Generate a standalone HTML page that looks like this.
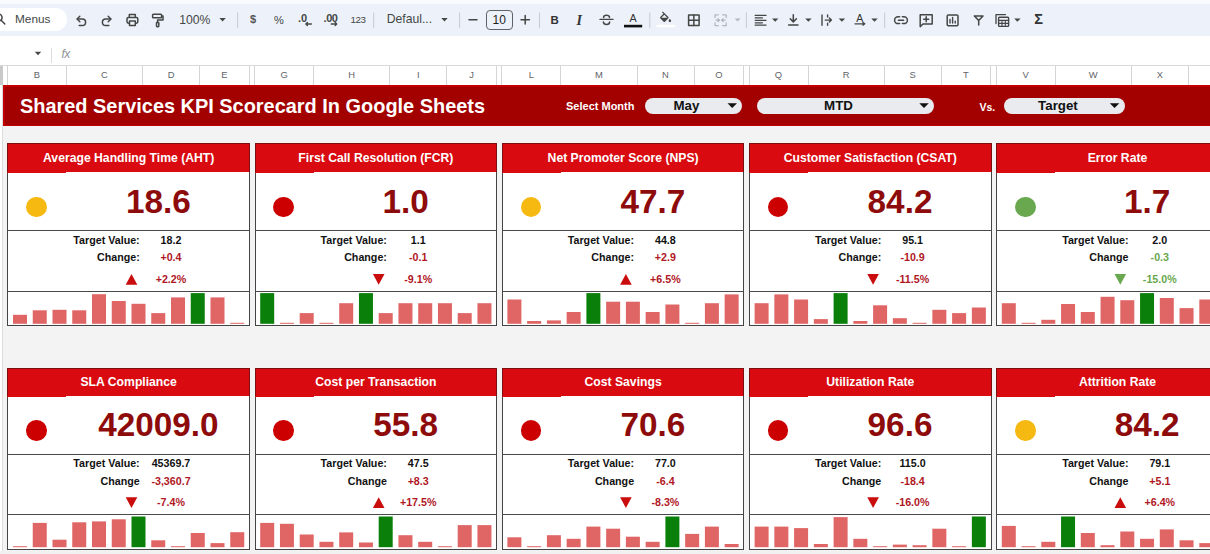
<!DOCTYPE html>
<html><head><meta charset="utf-8"><title>Shared Services KPI Scorecard</title>
<style>
html,body{margin:0;padding:0}
body{width:1210px;height:554px;overflow:hidden;position:relative;background:#f3f3f3;font-family:"Liberation Sans",sans-serif}
div{position:absolute;box-sizing:border-box}
svg.ov{position:absolute;left:0;top:0;pointer-events:none}
.card{background:#fff;border:1.2px solid #444}
.chead{background:#d90a10;color:#fff;font-weight:bold;font-size:12.2px;text-align:center;white-space:nowrap;border:1.3px solid #7a1010;border-bottom:none}
.cstep{width:59px;height:1.5px;background:#d90a10}
.cdiv{height:1.2px;background:#4a4a4a}
.circ{width:20.6px;height:20.6px;border-radius:50%}
.big{width:200px;height:40px;line-height:40px;text-align:center;font-weight:bold;font-size:33.3px;color:#8e0b0b;white-space:nowrap}
.lab{width:120px;height:16px;line-height:16px;text-align:right;font-weight:bold;font-size:10.7px;color:#111;white-space:nowrap}
.val{width:80px;height:16px;line-height:16px;text-align:center;font-weight:bold;font-size:10.7px;color:#111;white-space:nowrap}
.colh{top:65.5px;height:19.5px;line-height:19.5px;text-align:center;font-size:9.4px;color:#5f6368;margin-top:-0.4px}
.coll{top:65.5px;height:19.5px;width:1px;background:#d5d5d5}
.pill{background:#e9ebee;border-radius:9px;height:16px;top:97.7px;font-weight:bold;font-size:13.3px;color:#111;text-align:center;line-height:16.5px}
.btxt{color:#fff;font-weight:bold;white-space:nowrap}
.tt{height:17px;line-height:17px;color:#444746;white-space:nowrap;z-index:3}
</style></head><body>
<!-- toolbar -->
<div style="left:0;top:0;width:1210px;height:65px;background:#fff"></div>
<div style="left:0;top:0;width:1210px;height:4px;background:#f8fafd"></div>
<div style="left:0;top:3.5px;width:1210px;height:32.5px;background:#edf1f9"></div>
<div style="left:-20px;top:8px;width:87px;height:23px;background:#fff;border-radius:11.5px"></div>
<div class="tt" style="left:15px;top:11px;font-size:11.8px">Menus</div>
<div class="tt" style="left:179.2px;top:11.5px;font-size:12.2px">100%</div>
<div class="tt" style="left:350.4px;top:11.3px;font-size:9.8px;letter-spacing:-0.45px">123</div>
<div class="tt" style="left:386.7px;top:11px;font-size:12.2px">Defaul...</div>
<div style="left:485.8px;top:10px;width:26.8px;height:19.5px;border:1px solid #5f6368;border-radius:4px"></div>
<div class="tt" style="left:485.8px;top:11.5px;width:26.8px;text-align:center;font-size:12px;color:#1f1f1f">10</div>
<div class="tt" style="left:249.9px;top:11.3px;font-size:11px;font-weight:bold;color:#555">$</div>
<div class="tt" style="left:274px;top:11.5px;font-size:11px">%</div>
<div class="tt" style="left:298px;top:9.5px;font-size:11px;font-weight:bold">.0</div>
<div class="tt" style="left:323.5px;top:9.5px;font-size:11px;font-weight:bold;letter-spacing:-0.4px">.00</div>
<div class="tt" style="left:550.6px;top:12px;font-size:11.5px;font-weight:bold;color:#333">B</div>
<div class="tt" style="left:576.6px;top:11.6px;font-size:14px;font-style:italic;font-weight:bold;color:#333;font-family:'Liberation Serif',serif">I</div>
<div class="tt" style="left:629.4px;top:10.2px;font-size:10.8px;color:#333">A</div>
<div class="tt" style="left:856.2px;top:10.2px;font-size:10.5px;color:#333">A</div>
<div class="tt" style="left:1034.2px;top:11px;font-size:14.5px;font-weight:bold;color:#333">&Sigma;</div>
<div class="tt" style="left:61.5px;top:45.6px;font-size:12px;font-style:italic;color:#8f9297;letter-spacing:-0.6px">fx</div>
<svg class="ov" width="1210" height="70" style="z-index:2">
<g fill="none" stroke="#444746" stroke-width="1.5" stroke-linecap="round" stroke-linejoin="round">
<!-- search (cut) -->
<circle cx="-1.5" cy="17.5" r="3.6"/><path d="M1.2 20.3 L4.8 24"/>
<!-- undo -->
<path d="M77.3 19 H82.3 A3.3 3.3 0 0 1 82.3 25.6 H79.2"/><path d="M79.8 16.3 L77.1 19 L79.8 21.7"/>
<!-- redo -->
<path d="M110.7 19 H105.7 A3.3 3.3 0 0 0 105.7 25.6 H108.8"/><path d="M108.2 16.3 L110.9 19 L108.2 21.7"/>
<!-- print -->
<path d="M129.3 17.2 V14.6 H135.3 V17.2"/><rect x="127" y="17.4" width="10.8" height="5.8" rx="1.4"/><rect x="129.5" y="21" width="5.8" height="4.4" fill="#edf1f9"/>
<!-- paint format -->
<rect x="152.6" y="14.3" width="9" height="3.4" rx="0.8"/><path d="M161.6 16 H163 V20 H157.6 V22.3"/><rect x="156.5" y="22.5" width="2.3" height="4.2" rx="0.6"/>
<!-- minus / plus -->
<path d="M469 19.8 H477"/><path d="M521 19.8 H529.4 M525.2 15.6 V24"/>
<!-- strike -->
<path d="M600 19.4 H613" stroke-width="1.3"/><path d="M609.5 17.4 C609.3 15.9 608 15.3 606.5 15.3 C604.8 15.3 603.6 16.1 603.6 17.5 M603.4 22.1 C603.6 23.7 604.9 24.5 606.5 24.5 C608.2 24.5 609.6 23.7 609.6 22"/>
<!-- borders -->
<rect x="688.6" y="15" width="10.5" height="10.4"/><path d="M693.85 15 V25.4 M688.6 20.2 H699.1"/>
<!-- align -->
<path d="M755.2 15.4 H766 M755.2 17.9 H762.4 M755.2 20.3 H766 M755.2 22.8 H762.4 M755.2 25.2 H766" stroke-width="1.25"/>
<!-- valign bottom -->
<path d="M793.3 14.8 V21.6 M790.2 18.8 L793.3 21.9 L796.4 18.8 M788.6 25 H798"/>
<!-- wrap overflow -->
<path d="M822 15 V25.2 M827.6 15 V17 M827.6 23.2 V25.2 M825.2 20.1 H831.4 M829.4 18.1 L831.4 20.1 L829.4 22.1" stroke-width="1.4"/>
<!-- rotation -->
<path d="M855 23.8 H864.4 M863 22.5 L864.8 23.8 L863 25.1" stroke-width="1.3"/>
<!-- link -->
<path d="M899.6 16.8 H898 A3.4 3.4 0 0 0 898 23.6 H899.6 M902.4 16.8 H904 A3.4 3.4 0 0 1 904 23.6 H902.4 M898.4 20.2 H903.6"/>
<!-- comment -->
<path d="M920.2 14.7 H932.2 V24 H923 L920.2 26.6 Z M926.2 16.8 V21.8 M923.7 19.3 H928.7"/>
<!-- chart -->
<rect x="947.2" y="14.9" width="10.8" height="10.8" rx="1.2"/><path d="M950 23 V19.5 M952.6 23 V17.5 M955.2 23 V21.3" stroke-width="1.4"/>
<!-- filter -->
<path d="M974.4 15.9 H983 L978.7 20.6 Z M978.7 20.6 V25" stroke-width="1.5"/>
<!-- filter views -->
<path d="M996 23.5 V14.6 H1005.5" stroke-width="1.3"/><rect x="998.6" y="17.2" width="10" height="9.2" rx="0.8" stroke-width="1.4"/><path d="M998.6 20.4 H1008.6 M998.6 23.4 H1008.6 M1002 20.4 V26.4 M1005.3 20.4 V26.4" stroke-width="1.1"/>
</g>
<!-- decimal arrows -->
<g fill="none" stroke="#444746" stroke-width="1.3" stroke-linecap="round" stroke-linejoin="round">
<path d="M305.8 24 H311.4 M307.4 22.5 L305.8 24 L307.4 25.5"/>
<path d="M331.2 24 H336.8 M335.2 22.5 L336.8 24 L335.2 25.5"/>
</g>
<!-- merge (disabled) -->
<g fill="none" stroke="#b5b9bf" stroke-width="1.3" stroke-linecap="round" stroke-linejoin="round">
<path d="M715 17.6 V14.8 H718.4 M722.6 14.8 H726.2 V17.6 M715 22.8 V25.6 H718.4 M722.6 25.6 H726.2 V22.8 M716 20.2 H719.4 M718 18.8 L719.6 20.2 L718 21.6 M725.2 20.2 H721.8 M723.2 18.8 L721.6 20.2 L723.2 21.6"/>
</g>
<!-- text color bar / fill color -->
<rect x="624" y="24.8" width="18.2" height="2.6" fill="#111"/>
<rect x="656.6" y="24.8" width="18.6" height="2.4" fill="#fff"/>
<g transform="translate(658.1,11.5) scale(0.62)" fill="#444746">
<path d="M16.56 8.94L7.62 0 6.21 1.41l2.38 2.38-5.15 5.15c-.59.59-.59 1.54 0 2.12l5.5 5.5c.29.29.68.44 1.06.44s.77-.15 1.06-.44l5.5-5.5c.59-.58.59-1.53 0-2.12zM5.21 10L10 5.21 14.79 10H5.21zM19 11.5s-2 2.17-2 3.5c0 1.1.9 2 2 2s2-.9 2-2c0-1.33-2-3.5-2-3.5z"/>
</g>
<!-- dropdown carets -->
<g fill="#444746">
<polygon points="219.4,18 225.8,18 222.6,21.4"/>
<polygon points="441.3,18 447.7,18 444.5,21.4"/>
<polygon points="772,18.4 778.4,18.4 775.2,21.8"/>
<polygon points="805.2,18.4 811.6,18.4 808.4,21.8"/>
<polygon points="838.7,18.4 845.1,18.4 841.9,21.8"/>
<polygon points="871.3,18.4 877.7,18.4 874.5,21.8"/>
<polygon points="1014.2,18.4 1020.6,18.4 1017.4,21.8"/>
<polygon points="34.8,51.8 41.2,51.8 38,55.2"/>
</g>
<polygon points="734.6,18.4 740.6,18.4 737.6,21.6" fill="#b5b9bf"/>
<!-- separators -->
<g stroke="#c7cad0" stroke-width="1">
<path d="M237.6 12.5 V28 M373.7 12.5 V28 M459.6 12.5 V28 M539.5 12.5 V28 M649.8 12.5 V28 M746.4 12.5 V28 M884.7 12.5 V28"/>
</g>
<path d="M51.5 48 V63" stroke="#dadce0" stroke-width="1"/>
</svg>

<!-- column headers -->
<div style="left:0;top:65px;width:1210px;height:20px;background:#fff;border-top:1px solid #d9d9d9"></div>
<div style="left:0;top:66px;width:2.5px;height:19px;background:#c9c9c9"></div>
<div class="coll" style="left:6.9px"></div>
<div class="colh" style="left:7.4px;width:59.0px">B</div>
<div class="coll" style="left:65.9px"></div>
<div class="colh" style="left:66.4px;width:76.2px">C</div>
<div class="coll" style="left:142.1px"></div>
<div class="colh" style="left:142.6px;width:57.0px">D</div>
<div class="coll" style="left:199.1px"></div>
<div class="colh" style="left:199.6px;width:49.6px">E</div>
<div class="coll" style="left:248.7px"></div>
<div class="coll" style="left:254.1px"></div>
<div class="colh" style="left:254.6px;width:59.0px">G</div>
<div class="coll" style="left:313.1px"></div>
<div class="colh" style="left:313.6px;width:76.2px">H</div>
<div class="coll" style="left:389.3px"></div>
<div class="colh" style="left:389.8px;width:57.0px">I</div>
<div class="coll" style="left:446.3px"></div>
<div class="colh" style="left:446.8px;width:49.6px">J</div>
<div class="coll" style="left:495.9px"></div>
<div class="coll" style="left:501.3px"></div>
<div class="colh" style="left:501.8px;width:59.0px">L</div>
<div class="coll" style="left:560.3px"></div>
<div class="colh" style="left:560.8px;width:76.2px">M</div>
<div class="coll" style="left:636.5px"></div>
<div class="colh" style="left:637.0px;width:57.0px">N</div>
<div class="coll" style="left:693.5px"></div>
<div class="colh" style="left:694.0px;width:49.6px">O</div>
<div class="coll" style="left:743.1px"></div>
<div class="coll" style="left:748.5px"></div>
<div class="colh" style="left:749.0px;width:59.0px">Q</div>
<div class="coll" style="left:807.5px"></div>
<div class="colh" style="left:808.0px;width:76.2px">R</div>
<div class="coll" style="left:883.7px"></div>
<div class="colh" style="left:884.2px;width:57.0px">S</div>
<div class="coll" style="left:940.7px"></div>
<div class="colh" style="left:941.2px;width:49.6px">T</div>
<div class="coll" style="left:990.3px"></div>
<div class="coll" style="left:995.7px"></div>
<div class="colh" style="left:996.2px;width:59.0px">V</div>
<div class="coll" style="left:1054.7px"></div>
<div class="colh" style="left:1055.2px;width:76.2px">W</div>
<div class="coll" style="left:1130.9px"></div>
<div class="colh" style="left:1131.4px;width:57.0px">X</div>
<div class="coll" style="left:1187.9px"></div>
<div class="colh" style="left:1188.4px;width:49.6px">Y</div>
<div class="coll" style="left:1237.5px"></div>
<div class="coll" style="left:1242.9px"></div>
<!-- left row header sliver -->
<div style="left:0;top:85px;width:3px;height:469px;background:#fff;border-right:1px solid #dcdcdc"></div>
<!-- banner -->
<div style="left:3px;top:85px;width:1207px;height:41px;background:#c00000"></div>
<div style="left:5px;top:87px;width:1205px;height:37.5px;background:#a30000"></div>
<div class="btxt" style="left:20px;top:92.7px;height:26px;line-height:26px;font-size:19.93px" id="title">Shared Services KPI Scorecard In Google Sheets</div>
<div class="btxt" style="left:566px;top:98px;height:16px;line-height:16px;font-size:11px" id="selm">Select Month</div>
<div class="pill" style="left:644.5px;width:97.8px;padding-right:14px">May</div>
<div class="pill" style="left:757px;width:177px;padding-right:14px">MTD</div>
<div class="btxt" style="left:979.5px;top:99px;height:16px;line-height:16px;font-size:10.5px" id="vs">Vs.</div>
<div class="pill" style="left:1004.3px;width:120.3px;padding-right:13px">Target</div>
<svg class="ov" width="1210" height="554">
<polygon points="727.5,103.2 737,103.2 732.2,108" fill="#111"/>
<polygon points="919.3,103.2 928.8,103.2 924,108" fill="#111"/>
<polygon points="1109.8,103.2 1119.3,103.2 1114.6,108" fill="#111"/>
</svg>
<!-- cards -->
<div class="card" style="left:7.4px;top:143.2px;width:242.6px;height:182.9px"></div>
<div class="chead" style="left:7.4px;top:143.2px;width:242.6px;height:29.0px;line-height:29.5px">Average Handling Time (AHT)</div>
<div class="cstep" style="left:7.4px;top:171.7px"></div>
<div class="cdiv" style="left:7.4px;top:230.2px;width:242.6px"></div>
<div class="cdiv" style="left:7.4px;top:290.6px;width:242.6px"></div>
<div class="circ" style="left:26.2px;top:196.7px;background:#f5b912"></div>
<div class="big" style="left:58.4px;top:181.9px">18.6</div>
<div class="lab" style="left:19.7px;top:232.0px">Target Value:</div>
<div class="val" style="left:131.0px;top:232.0px">18.2</div>
<div class="lab" style="left:19.7px;top:249.2px">Change:</div>
<div class="val" style="left:131.0px;top:249.2px;color:#b0171f">+0.4</div>
<svg class="ov" width="1210" height="554"><polygon points="125.7,284.7 137.3,284.7 131.5,273.9" fill="#c90c0c"/></svg>
<div class="val" style="left:131.0px;top:271.0px;color:#b0171f">+2.2%</div>
<svg class="ov" width="1210" height="554"><rect x="13.00" y="314.80" width="14" height="9.00" fill="#e06666"/><rect x="32.75" y="310.30" width="14" height="13.50" fill="#e06666"/><rect x="52.50" y="309.80" width="14" height="14.00" fill="#e06666"/><rect x="72.25" y="310.30" width="14" height="13.50" fill="#e06666"/><rect x="92.00" y="294.20" width="14" height="29.60" fill="#e06666"/><rect x="111.75" y="301.00" width="14" height="22.80" fill="#e06666"/><rect x="131.50" y="303.80" width="14" height="20.00" fill="#e06666"/><rect x="151.25" y="313.10" width="14" height="10.70" fill="#e06666"/><rect x="171.00" y="297.40" width="14" height="26.40" fill="#e06666"/><rect x="190.75" y="293.10" width="14" height="30.70" fill="#0a800a"/><rect x="210.50" y="297.40" width="14" height="26.40" fill="#e06666"/><rect x="230.25" y="322.80" width="14" height="1.00" fill="#e06666"/></svg>
<div class="card" style="left:254.6px;top:143.2px;width:242.6px;height:182.9px"></div>
<div class="chead" style="left:254.6px;top:143.2px;width:242.6px;height:29.0px;line-height:29.5px">First Call Resolution (FCR)</div>
<div class="cstep" style="left:254.6px;top:171.7px"></div>
<div class="cdiv" style="left:254.6px;top:230.2px;width:242.6px"></div>
<div class="cdiv" style="left:254.6px;top:290.6px;width:242.6px"></div>
<div class="circ" style="left:273.4px;top:196.7px;background:#cc0000"></div>
<div class="big" style="left:305.6px;top:181.9px">1.0</div>
<div class="lab" style="left:266.9px;top:232.0px">Target Value:</div>
<div class="val" style="left:378.2px;top:232.0px">1.1</div>
<div class="lab" style="left:266.9px;top:249.2px">Change:</div>
<div class="val" style="left:378.2px;top:249.2px;color:#b0171f">-0.1</div>
<svg class="ov" width="1210" height="554"><polygon points="372.9,273.9 384.5,273.9 378.7,284.7" fill="#c90c0c"/></svg>
<div class="val" style="left:378.2px;top:271.0px;color:#b0171f">-9.1%</div>
<svg class="ov" width="1210" height="554"><rect x="260.20" y="293.10" width="14" height="30.70" fill="#0a800a"/><rect x="279.95" y="322.80" width="14" height="1.00" fill="#e06666"/><rect x="299.70" y="313.10" width="14" height="10.70" fill="#e06666"/><rect x="319.45" y="322.80" width="14" height="1.00" fill="#e06666"/><rect x="339.20" y="303.20" width="14" height="20.60" fill="#e06666"/><rect x="358.95" y="293.10" width="14" height="30.70" fill="#0a800a"/><rect x="378.70" y="313.10" width="14" height="10.70" fill="#e06666"/><rect x="398.45" y="303.20" width="14" height="20.60" fill="#e06666"/><rect x="418.20" y="303.20" width="14" height="20.60" fill="#e06666"/><rect x="437.95" y="303.20" width="14" height="20.60" fill="#e06666"/><rect x="457.70" y="313.10" width="14" height="10.70" fill="#e06666"/><rect x="477.45" y="303.20" width="14" height="20.60" fill="#e06666"/></svg>
<div class="card" style="left:501.8px;top:143.2px;width:242.6px;height:182.9px"></div>
<div class="chead" style="left:501.8px;top:143.2px;width:242.6px;height:29.0px;line-height:29.5px">Net Promoter Score (NPS)</div>
<div class="cstep" style="left:501.8px;top:171.7px"></div>
<div class="cdiv" style="left:501.8px;top:230.2px;width:242.6px"></div>
<div class="cdiv" style="left:501.8px;top:290.6px;width:242.6px"></div>
<div class="circ" style="left:520.6px;top:196.7px;background:#f5b912"></div>
<div class="big" style="left:552.8px;top:181.9px">47.7</div>
<div class="lab" style="left:514.1px;top:232.0px">Target Value:</div>
<div class="val" style="left:625.4px;top:232.0px">44.8</div>
<div class="lab" style="left:514.1px;top:249.2px">Change:</div>
<div class="val" style="left:625.4px;top:249.2px;color:#b0171f">+2.9</div>
<svg class="ov" width="1210" height="554"><polygon points="620.1,284.7 631.7,284.7 625.9,273.9" fill="#c90c0c"/></svg>
<div class="val" style="left:625.4px;top:271.0px;color:#b0171f">+6.5%</div>
<svg class="ov" width="1210" height="554"><rect x="507.40" y="299.50" width="14" height="24.30" fill="#e06666"/><rect x="527.15" y="321.00" width="14" height="2.80" fill="#e06666"/><rect x="546.90" y="320.40" width="14" height="3.40" fill="#e06666"/><rect x="566.65" y="312.00" width="14" height="11.80" fill="#e06666"/><rect x="586.40" y="293.10" width="14" height="30.70" fill="#0a800a"/><rect x="606.15" y="301.70" width="14" height="22.10" fill="#e06666"/><rect x="625.90" y="301.70" width="14" height="22.10" fill="#e06666"/><rect x="645.65" y="312.00" width="14" height="11.80" fill="#e06666"/><rect x="665.40" y="304.50" width="14" height="19.30" fill="#e06666"/><rect x="685.15" y="322.80" width="14" height="1.00" fill="#e06666"/><rect x="704.90" y="303.20" width="14" height="20.60" fill="#e06666"/><rect x="724.65" y="294.40" width="14" height="29.40" fill="#e06666"/></svg>
<div class="card" style="left:749.0px;top:143.2px;width:242.6px;height:182.9px"></div>
<div class="chead" style="left:749.0px;top:143.2px;width:242.6px;height:29.0px;line-height:29.5px">Customer Satisfaction (CSAT)</div>
<div class="cstep" style="left:749.0px;top:171.7px"></div>
<div class="cdiv" style="left:749.0px;top:230.2px;width:242.6px"></div>
<div class="cdiv" style="left:749.0px;top:290.6px;width:242.6px"></div>
<div class="circ" style="left:767.8px;top:196.7px;background:#cc0000"></div>
<div class="big" style="left:800.0px;top:181.9px">84.2</div>
<div class="lab" style="left:761.3px;top:232.0px">Target Value:</div>
<div class="val" style="left:872.6px;top:232.0px">95.1</div>
<div class="lab" style="left:761.3px;top:249.2px">Change:</div>
<div class="val" style="left:872.6px;top:249.2px;color:#b0171f">-10.9</div>
<svg class="ov" width="1210" height="554"><polygon points="867.3,273.9 878.9,273.9 873.1,284.7" fill="#c90c0c"/></svg>
<div class="val" style="left:872.6px;top:271.0px;color:#b0171f">-11.5%</div>
<svg class="ov" width="1210" height="554"><rect x="754.60" y="303.20" width="14" height="20.60" fill="#e06666"/><rect x="774.35" y="294.40" width="14" height="29.40" fill="#e06666"/><rect x="794.10" y="299.50" width="14" height="24.30" fill="#e06666"/><rect x="813.85" y="319.10" width="14" height="4.70" fill="#e06666"/><rect x="833.60" y="293.10" width="14" height="30.70" fill="#0a800a"/><rect x="853.35" y="321.00" width="14" height="2.80" fill="#e06666"/><rect x="873.10" y="305.30" width="14" height="18.50" fill="#e06666"/><rect x="892.85" y="318.20" width="14" height="5.60" fill="#e06666"/><rect x="912.60" y="322.80" width="14" height="1.00" fill="#e06666"/><rect x="932.35" y="309.80" width="14" height="14.00" fill="#e06666"/><rect x="952.10" y="313.10" width="14" height="10.70" fill="#e06666"/><rect x="971.85" y="307.50" width="14" height="16.30" fill="#e06666"/></svg>
<div class="card" style="left:996.2px;top:143.2px;width:242.6px;height:182.9px"></div>
<div class="chead" style="left:996.2px;top:143.2px;width:242.6px;height:29.0px;line-height:29.5px">Error Rate</div>
<div class="cstep" style="left:996.2px;top:171.7px"></div>
<div class="cdiv" style="left:996.2px;top:230.2px;width:242.6px"></div>
<div class="cdiv" style="left:996.2px;top:290.6px;width:242.6px"></div>
<div class="circ" style="left:1015.0px;top:196.7px;background:#6aa84f"></div>
<div class="big" style="left:1047.2px;top:181.9px">1.7</div>
<div class="lab" style="left:1008.5px;top:232.0px">Target Value:</div>
<div class="val" style="left:1119.8px;top:232.0px">2.0</div>
<div class="lab" style="left:1008.5px;top:249.2px">Change</div>
<div class="val" style="left:1119.8px;top:249.2px;color:#6aa84f">-0.3</div>
<svg class="ov" width="1210" height="554"><polygon points="1114.5,273.9 1126.1,273.9 1120.3,284.7" fill="#6aa84f"/></svg>
<div class="val" style="left:1119.8px;top:271.0px;color:#6aa84f">-15.0%</div>
<svg class="ov" width="1210" height="554"><rect x="1001.80" y="303.20" width="14" height="20.60" fill="#e06666"/><rect x="1021.55" y="322.80" width="14" height="1.00" fill="#e06666"/><rect x="1041.30" y="319.80" width="14" height="4.00" fill="#e06666"/><rect x="1061.05" y="304.00" width="14" height="19.80" fill="#e06666"/><rect x="1080.80" y="312.00" width="14" height="11.80" fill="#e06666"/><rect x="1100.55" y="296.80" width="14" height="27.00" fill="#e06666"/><rect x="1120.30" y="300.20" width="14" height="23.60" fill="#e06666"/><rect x="1140.05" y="293.10" width="14" height="30.70" fill="#0a800a"/><rect x="1159.80" y="298.00" width="14" height="25.80" fill="#e06666"/><rect x="1179.55" y="308.10" width="14" height="15.70" fill="#e06666"/><rect x="1199.30" y="299.50" width="14" height="24.30" fill="#e06666"/><rect x="1219.05" y="311.80" width="14" height="12.00" fill="#e06666"/></svg>
<div class="card" style="left:7.4px;top:368.0px;width:242.6px;height:182.0px"></div>
<div class="chead" style="left:7.4px;top:368.0px;width:242.6px;height:28.0px;line-height:27.3px">SLA Compliance</div>
<div class="cstep" style="left:7.4px;top:395.5px"></div>
<div class="cdiv" style="left:7.4px;top:453.6px;width:242.6px"></div>
<div class="cdiv" style="left:7.4px;top:513.7px;width:242.6px"></div>
<div class="circ" style="left:26.2px;top:420.1px;background:#cc0000"></div>
<div class="big" style="left:58.4px;top:405.3px">42009.0</div>
<div class="lab" style="left:19.7px;top:455.4px">Target Value:</div>
<div class="val" style="left:131.0px;top:455.4px">45369.7</div>
<div class="lab" style="left:19.7px;top:472.6px">Change</div>
<div class="val" style="left:131.0px;top:472.6px;color:#b0171f">-3,360.7</div>
<svg class="ov" width="1210" height="554"><polygon points="125.7,497.3 137.3,497.3 131.5,508.1" fill="#c90c0c"/></svg>
<div class="val" style="left:131.0px;top:494.4px;color:#b0171f">-7.4%</div>
<svg class="ov" width="1210" height="554"><rect x="13.00" y="546.20" width="14" height="1.00" fill="#e06666"/><rect x="32.75" y="522.90" width="14" height="24.30" fill="#e06666"/><rect x="52.50" y="539.70" width="14" height="7.50" fill="#e06666"/><rect x="72.25" y="522.30" width="14" height="24.90" fill="#e06666"/><rect x="92.00" y="521.40" width="14" height="25.80" fill="#e06666"/><rect x="111.75" y="519.30" width="14" height="27.90" fill="#e06666"/><rect x="131.50" y="516.50" width="14" height="30.70" fill="#0a800a"/><rect x="151.25" y="540.30" width="14" height="6.90" fill="#e06666"/><rect x="171.00" y="546.20" width="14" height="1.00" fill="#e06666"/><rect x="190.75" y="533.00" width="14" height="14.20" fill="#e06666"/><rect x="210.50" y="543.10" width="14" height="4.10" fill="#e06666"/><rect x="230.25" y="532.20" width="14" height="15.00" fill="#e06666"/></svg>
<div class="card" style="left:254.6px;top:368.0px;width:242.6px;height:182.0px"></div>
<div class="chead" style="left:254.6px;top:368.0px;width:242.6px;height:28.0px;line-height:27.3px">Cost per Transaction</div>
<div class="cstep" style="left:254.6px;top:395.5px"></div>
<div class="cdiv" style="left:254.6px;top:453.6px;width:242.6px"></div>
<div class="cdiv" style="left:254.6px;top:513.7px;width:242.6px"></div>
<div class="circ" style="left:273.4px;top:420.1px;background:#cc0000"></div>
<div class="big" style="left:305.6px;top:405.3px">55.8</div>
<div class="lab" style="left:266.9px;top:455.4px">Target Value:</div>
<div class="val" style="left:378.2px;top:455.4px">47.5</div>
<div class="lab" style="left:266.9px;top:472.6px">Change</div>
<div class="val" style="left:378.2px;top:472.6px;color:#b0171f">+8.3</div>
<svg class="ov" width="1210" height="554"><polygon points="372.9,508.1 384.5,508.1 378.7,497.3" fill="#c90c0c"/></svg>
<div class="val" style="left:378.2px;top:494.4px;color:#b0171f">+17.5%</div>
<svg class="ov" width="1210" height="554"><rect x="260.20" y="522.90" width="14" height="24.30" fill="#e06666"/><rect x="279.95" y="523.80" width="14" height="23.40" fill="#e06666"/><rect x="299.70" y="534.50" width="14" height="12.70" fill="#e06666"/><rect x="319.45" y="541.80" width="14" height="5.40" fill="#e06666"/><rect x="339.20" y="532.40" width="14" height="14.80" fill="#e06666"/><rect x="358.95" y="542.50" width="14" height="4.70" fill="#e06666"/><rect x="378.70" y="516.50" width="14" height="30.70" fill="#0a800a"/><rect x="398.45" y="535.20" width="14" height="12.00" fill="#e06666"/><rect x="418.20" y="541.80" width="14" height="5.40" fill="#e06666"/><rect x="437.95" y="546.20" width="14" height="1.00" fill="#e06666"/><rect x="457.70" y="525.10" width="14" height="22.10" fill="#e06666"/><rect x="477.45" y="525.10" width="14" height="22.10" fill="#e06666"/></svg>
<div class="card" style="left:501.8px;top:368.0px;width:242.6px;height:182.0px"></div>
<div class="chead" style="left:501.8px;top:368.0px;width:242.6px;height:28.0px;line-height:27.3px">Cost Savings</div>
<div class="cstep" style="left:501.8px;top:395.5px"></div>
<div class="cdiv" style="left:501.8px;top:453.6px;width:242.6px"></div>
<div class="cdiv" style="left:501.8px;top:513.7px;width:242.6px"></div>
<div class="circ" style="left:520.6px;top:420.1px;background:#cc0000"></div>
<div class="big" style="left:552.8px;top:405.3px">70.6</div>
<div class="lab" style="left:514.1px;top:455.4px">Target Value:</div>
<div class="val" style="left:625.4px;top:455.4px">77.0</div>
<div class="lab" style="left:514.1px;top:472.6px">Change</div>
<div class="val" style="left:625.4px;top:472.6px;color:#b0171f">-6.4</div>
<svg class="ov" width="1210" height="554"><polygon points="620.1,497.3 631.7,497.3 625.9,508.1" fill="#c90c0c"/></svg>
<div class="val" style="left:625.4px;top:494.4px;color:#b0171f">-8.3%</div>
<svg class="ov" width="1210" height="554"><rect x="507.40" y="537.30" width="14" height="9.90" fill="#e06666"/><rect x="527.15" y="546.20" width="14" height="1.00" fill="#e06666"/><rect x="546.90" y="535.20" width="14" height="12.00" fill="#e06666"/><rect x="566.65" y="538.80" width="14" height="8.40" fill="#e06666"/><rect x="586.40" y="526.60" width="14" height="20.60" fill="#e06666"/><rect x="606.15" y="528.70" width="14" height="18.50" fill="#e06666"/><rect x="625.90" y="536.70" width="14" height="10.50" fill="#e06666"/><rect x="645.65" y="541.80" width="14" height="5.40" fill="#e06666"/><rect x="665.40" y="516.50" width="14" height="30.70" fill="#0a800a"/><rect x="685.15" y="533.90" width="14" height="13.30" fill="#e06666"/><rect x="704.90" y="526.60" width="14" height="20.60" fill="#e06666"/><rect x="724.65" y="544.00" width="14" height="3.20" fill="#e06666"/></svg>
<div class="card" style="left:749.0px;top:368.0px;width:242.6px;height:182.0px"></div>
<div class="chead" style="left:749.0px;top:368.0px;width:242.6px;height:28.0px;line-height:27.3px">Utilization Rate</div>
<div class="cstep" style="left:749.0px;top:395.5px"></div>
<div class="cdiv" style="left:749.0px;top:453.6px;width:242.6px"></div>
<div class="cdiv" style="left:749.0px;top:513.7px;width:242.6px"></div>
<div class="circ" style="left:767.8px;top:420.1px;background:#cc0000"></div>
<div class="big" style="left:800.0px;top:405.3px">96.6</div>
<div class="lab" style="left:761.3px;top:455.4px">Target Value:</div>
<div class="val" style="left:872.6px;top:455.4px">115.0</div>
<div class="lab" style="left:761.3px;top:472.6px">Change</div>
<div class="val" style="left:872.6px;top:472.6px;color:#b0171f">-18.4</div>
<svg class="ov" width="1210" height="554"><polygon points="867.3,497.3 878.9,497.3 873.1,508.1" fill="#c90c0c"/></svg>
<div class="val" style="left:872.6px;top:494.4px;color:#b0171f">-16.0%</div>
<svg class="ov" width="1210" height="554"><rect x="754.60" y="526.60" width="14" height="20.60" fill="#e06666"/><rect x="774.35" y="526.60" width="14" height="20.60" fill="#e06666"/><rect x="794.10" y="528.10" width="14" height="19.10" fill="#e06666"/><rect x="813.85" y="544.00" width="14" height="3.20" fill="#e06666"/><rect x="833.60" y="517.10" width="14" height="30.10" fill="#e06666"/><rect x="853.35" y="538.80" width="14" height="8.40" fill="#e06666"/><rect x="873.10" y="546.20" width="14" height="1.00" fill="#e06666"/><rect x="892.85" y="544.60" width="14" height="2.60" fill="#e06666"/><rect x="912.60" y="545.20" width="14" height="2.00" fill="#e06666"/><rect x="932.35" y="528.70" width="14" height="18.50" fill="#e06666"/><rect x="952.10" y="546.20" width="14" height="1.00" fill="#e06666"/><rect x="971.85" y="516.50" width="14" height="30.70" fill="#0a800a"/></svg>
<div class="card" style="left:996.2px;top:368.0px;width:242.6px;height:182.0px"></div>
<div class="chead" style="left:996.2px;top:368.0px;width:242.6px;height:28.0px;line-height:27.3px">Attrition Rate</div>
<div class="cstep" style="left:996.2px;top:395.5px"></div>
<div class="cdiv" style="left:996.2px;top:453.6px;width:242.6px"></div>
<div class="cdiv" style="left:996.2px;top:513.7px;width:242.6px"></div>
<div class="circ" style="left:1015.0px;top:420.1px;background:#f5b912"></div>
<div class="big" style="left:1047.2px;top:405.3px">84.2</div>
<div class="lab" style="left:1008.5px;top:455.4px">Target Value:</div>
<div class="val" style="left:1119.8px;top:455.4px">79.1</div>
<div class="lab" style="left:1008.5px;top:472.6px">Change</div>
<div class="val" style="left:1119.8px;top:472.6px;color:#b0171f">+5.1</div>
<svg class="ov" width="1210" height="554"><polygon points="1114.5,508.1 1126.1,508.1 1120.3,497.3" fill="#c90c0c"/></svg>
<div class="val" style="left:1119.8px;top:494.4px;color:#b0171f">+6.4%</div>
<svg class="ov" width="1210" height="554"><rect x="1001.80" y="525.90" width="14" height="21.30" fill="#e06666"/><rect x="1021.55" y="546.20" width="14" height="1.00" fill="#e06666"/><rect x="1041.30" y="541.80" width="14" height="5.40" fill="#e06666"/><rect x="1061.05" y="516.50" width="14" height="30.70" fill="#0a800a"/><rect x="1080.80" y="533.00" width="14" height="14.20" fill="#e06666"/><rect x="1100.55" y="545.20" width="14" height="2.00" fill="#e06666"/><rect x="1120.30" y="531.50" width="14" height="15.70" fill="#e06666"/><rect x="1140.05" y="538.80" width="14" height="8.40" fill="#e06666"/><rect x="1159.80" y="529.40" width="14" height="17.80" fill="#e06666"/><rect x="1179.55" y="540.30" width="14" height="6.90" fill="#e06666"/><rect x="1199.30" y="543.10" width="14" height="4.10" fill="#e06666"/><rect x="1219.05" y="537.20" width="14" height="10.00" fill="#e06666"/></svg>
<!-- bottom strip -->
<div style="left:0;top:550.5px;width:1210px;height:4px;background:#f1f1f1"></div>
</body></html>
